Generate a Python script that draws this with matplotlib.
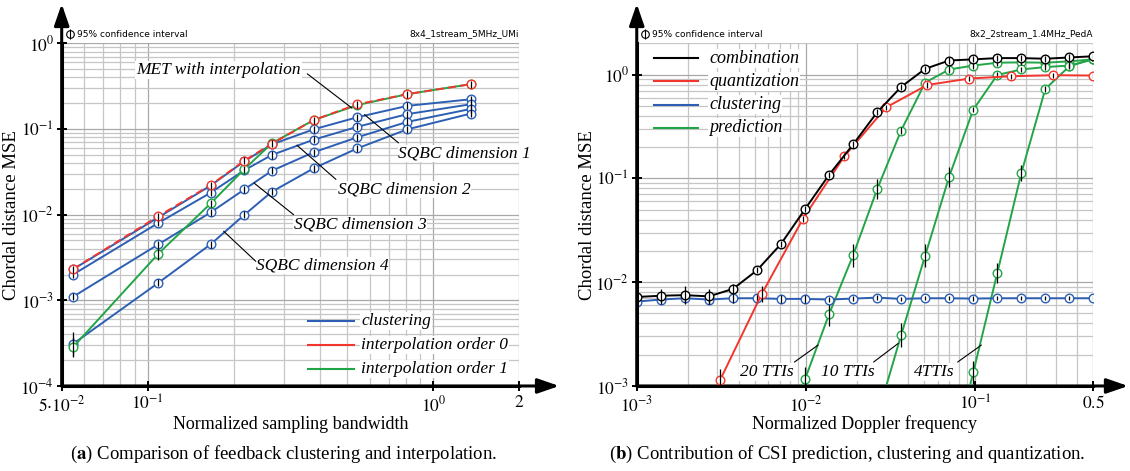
import numpy as np
import matplotlib.pyplot as plt
from matplotlib.ticker import LogLocator, NullFormatter

plt.rcParams['font.family'] = 'Liberation Serif'
plt.rcParams['mathtext.fontset'] = 'stix'

BLUE = '#2c5fb4'
RED = '#f2362e'
GREEN = '#22a546'

# ---------------- (a) feedback clustering / interpolation ----------------
bandwidth = [0.0548, 0.109, 0.166, 0.218, 0.272, 0.381, 0.542, 0.811, 1.35]
sqbc_dim1 = [2.3e-3, 9.3e-3, 0.0218, 0.042, 0.066, 0.099, 0.137, 0.186, 0.222]
sqbc_dim2 = [2.0e-3, 8.0e-3, 0.018, 0.033, 0.0497, 0.075, 0.106, 0.149, 0.194]
sqbc_dim3 = [1.1e-3, 4.5e-3, 0.0106, 0.0197, 0.0325, 0.0534, 0.080, 0.121, 0.171]
sqbc_dim4 = [3.1e-4, 1.6e-3, 4.5e-3, 0.00995, 0.0185, 0.0347, 0.0594, 0.099, 0.151]
interp_order0 = [2.31e-3, 9.6e-3, 0.0221, 0.0426, 0.0673, 0.127, 0.194, 0.255, 0.333]
interp_order1 = [2.84e-4, 3.5e-3, 0.0135, 0.034, 0.068, 0.127, 0.19, 0.255, 0.333]
# confidence interval half-width as a factor
err_dim4 = [1.37, 1.1, 1.1, 1.1, 1.1, 1.1, 1.1, 1.1, 1.1]
err_order1 = [1.3, 1.17, 1.1, 1.1, 1.1, 1.1, 1.1, 1.1, 1.1]

# ---------------- (b) prediction / clustering / quantization ----------------
doppler = [0.001, 0.001387, 0.001923, 0.002668, 0.0037, 0.005132, 0.007117,
           0.009871, 0.01369, 0.018987, 0.026333, 0.036522, 0.050652, 0.07025,
           0.09743, 0.135127, 0.187408, 0.259917, 0.360478, 0.5]
combination = [7.2e-3, 7.4e-3, 7.5e-3, 7.3e-3, 8.6e-3, 0.013, 0.0233, 0.0505, 0.108, 0.212,
               0.432, 0.76, 1.135, 1.365, 1.40, 1.44, 1.44, 1.42, 1.46, 1.50]
clustering = [6.5e-3, 6.8e-3, 7.0e-3, 6.8e-3, 7.0e-3, 7.0e-3, 6.9e-3, 6.9e-3, 6.8e-3, 6.95e-3,
              7.1e-3, 6.9e-3, 7.0e-3, 7.0e-3, 6.95e-3, 7.0e-3, 7.0e-3, 7.0e-3, 7.0e-3, 7.0e-3]
quant_doppler = [0.00176, 0.0031, 0.00547, 0.00959, 0.0169, 0.0298, 0.0522, 0.0924, 0.163, 0.289, 0.5]
quantization = [1.7e-4, 1.13e-3, 7.65e-3, 0.0407, 0.164, 0.483, 0.794, 0.915, 0.963, 0.985, 0.978]
pred_20tti = [2.8e-4, 1.16e-3, 4.9e-3, 0.0181, 0.0783, 0.289, 0.837, 1.118, 1.22, 1.30, 1.31, 1.30, 1.34, 1.40]
pred_10tti = [5.0e-4, 3.09e-3, 0.018, 0.104, 0.458, 0.99, 1.12, 1.18, 1.22, 1.40]
pred_4tti = [1.5e-4, 1.35e-3, 0.0122, 0.112, 0.727, 1.20, 1.42]

err_comb = [1.15, 1.15, 1.22, 1.18, 1.12] + [1.07] * 15
err_clust = [1.1] * 8 + [1.05] * 12
err_quant = [1.0, 1.3, 1.2] + [1.06] * 8
err_20 = [1.0, 1.3, 1.3, 1.3, 1.25] + [1.07] * 9
err_10 = [1.0, 1.3, 1.3, 1.25] + [1.06] * 6
err_4 = [1.0, 1.3, 1.25, 1.2, 1.06, 1.06, 1.06]


def curve(ax, x, y, color, err=None, ls='-', z=3, default_err=1.1):
    x = np.asarray(x)
    y = np.asarray(y)
    f = np.full(len(y), default_err) if err is None else np.asarray(err)
    ax.plot(x, y, color=color, lw=1.4, ls=ls, marker='o', ms=6.2, mfc='white',
            mec=color, mew=1.0, zorder=z)
    ax.vlines(x, y / f, y * f, color='k', lw=0.9, zorder=z + 0.5)


def style(ax, tip_x, tip_y):
    ax.set_xscale('log')
    ax.set_yscale('log')
    for s in ('top', 'right'):
        ax.spines[s].set_visible(False)
    for s in ('left', 'bottom'):
        ax.spines[s].set_linewidth(2.2)
        ax.spines[s].set_zorder(10)
    ax.grid(True, which='major', color='#a8a8a8', lw=0.9)
    ax.grid(True, which='minor', color='#c6c6c6', lw=0.9)
    ax.set_axisbelow(True)
    arrow = dict(arrowstyle='-|>,head_length=1.3,head_width=0.45', lw=2.2,
                 color='k', shrinkA=0, shrinkB=0)
    ax.annotate('', xy=(0, tip_y), xytext=(0, 0), xycoords='axes fraction',
                arrowprops=arrow, annotation_clip=False)
    ax.annotate('', xy=(tip_x, 0), xytext=(0, 0), xycoords='axes fraction',
                arrowprops=arrow, annotation_clip=False)


def ticks(ax, xt, xl, yt, yl):
    ax.set_xticks(xt, xl)
    ax.set_yticks(yt, yl)
    ax.xaxis.set_minor_locator(LogLocator(subs=np.arange(2, 10)))
    ax.yaxis.set_minor_locator(LogLocator(subs=np.arange(2, 10)))
    ax.xaxis.set_minor_formatter(NullFormatter())
    ax.yaxis.set_minor_formatter(NullFormatter())
    ax.tick_params(which='major', direction='inout', length=7, width=1.4,
                   labelsize=12.5)
    ax.tick_params(axis='x', which='major', pad=3)
    ax.tick_params(axis='y', which='major', pad=2)
    ax.tick_params(which='minor', length=0)


def header(ax, right_text):
    ax.plot([0.019], [1.027], marker='o', ms=5.5, mfc='white', mec='k', mew=0.8,
            transform=ax.transAxes, clip_on=False)
    ax.plot([0.019], [1.027], marker='|', ms=6.5, mec='k', mew=0.8,
            transform=ax.transAxes, clip_on=False)
    ax.text(0.034, 1.027, '95% confidence interval', transform=ax.transAxes,
            family='DejaVu Sans', fontsize=6.5, va='center', ha='left')
    ax.text(0.998, 1.027, right_text, transform=ax.transAxes,
            family='DejaVu Sans', fontsize=6.5, va='center', ha='right')


def legend(ax, labels, colors, x0, x1, xt, ys, fs):
    for lab, col, y in zip(labels, colors, ys):
        ax.plot([x0, x1], [y, y], color=col, lw=1.5, transform=ax.transAxes, zorder=6)
        ax.text(xt, y, lab, transform=ax.transAxes, fontsize=fs, style='italic',
                va='center', ha='left', zorder=6,
                bbox=dict(boxstyle='square,pad=0.05', fc='white', ec='none'))


def note(ax, text, pos, start, end, fs=12.5):
    ax.text(pos[0], pos[1], text, fontsize=fs, style='italic', ha='left',
            va='center', zorder=7,
            bbox=dict(boxstyle='square,pad=0.05', fc='white', ec='none'))
    ax.annotate('', xy=end, xytext=start,
                arrowprops=dict(arrowstyle='-', lw=0.8, color='k',
                                shrinkA=0, shrinkB=0), zorder=7)


fig = plt.figure(figsize=(11.3, 4.71), dpi=100)
ax1 = fig.add_axes([0.0546, 0.1805, 0.405, 0.7276])
ax2 = fig.add_axes([0.5635, 0.1805, 0.4041, 0.7276])

# ---- panel (a) ----
style(ax1, 1.087, 1.115)
curve(ax1, bandwidth, sqbc_dim1, BLUE)
curve(ax1, bandwidth, sqbc_dim2, BLUE)
curve(ax1, bandwidth, sqbc_dim3, BLUE)
curve(ax1, bandwidth, sqbc_dim4, BLUE, err=err_dim4)
curve(ax1, bandwidth, interp_order1, GREEN, err=err_order1, z=4)
ax1.plot(bandwidth, interp_order0, color=RED, lw=1.4, dashes=(4, 2.2),
         marker='o', ms=6.2, mfc='white', mec=RED, mew=1.0, zorder=5)
ax1.vlines(bandwidth, np.asarray(interp_order0) / 1.1, np.asarray(interp_order0) * 1.1,
           color='k', lw=0.9, zorder=5.5)

ticks(ax1, [0.05, 0.1, 1, 2], [r'$5{\cdot}10^{-2}$', r'$10^{-1}$', r'$10^{0}$', r'$2$'],
      [1e-4, 1e-3, 1e-2, 1e-1, 1],
      [r'$10^{-4}$', r'$10^{-3}$', r'$10^{-2}$', r'$10^{-1}$', r'$10^{0}$'])
ax1.set_xlim(0.05, 2)
ax1.set_ylim(1e-4, 1)
header(ax1, '8x4_1stream_5MHz_UMi')

note(ax1, 'MET with interpolation', (0.0912, 0.49), (0.362, 0.44), (0.519, 0.175))
note(ax1, 'SQBC dimension 1', (0.755, 0.0517), (0.755, 0.0688), (0.574, 0.147))
note(ax1, 'SQBC dimension 2', (0.463, 0.0197), (0.456, 0.0258), (0.333, 0.0646))
note(ax1, 'SQBC dimension 3', (0.324, 0.0076), (0.324, 0.0100), (0.2356, 0.0234))
note(ax1, 'SQBC dimension 4', (0.239, 0.00254), (0.239, 0.00285), (0.1845, 0.0064))

legend(ax1, ['clustering', 'interpolation order 0', 'interpolation order 1'],
       [BLUE, RED, GREEN], 0.538, 0.638, 0.654, [0.19, 0.12, 0.05], 12.5)

# ---- panel (b) ----
style(ax2, 1.076, 1.115)
curve(ax2, doppler[6:], pred_20tti, GREEN, err=err_20)
curve(ax2, doppler[10:], pred_10tti, GREEN, err=err_10)
curve(ax2, doppler[13:], pred_4tti, GREEN, err=err_4)
curve(ax2, doppler, clustering, BLUE, err=err_clust, z=4)
curve(ax2, quant_doppler, quantization, RED, err=err_quant, z=5)
curve(ax2, doppler, combination, 'k', err=err_comb, z=6)

ticks(ax2, [1e-3, 1e-2, 1e-1, 0.5], [r'$10^{-3}$', r'$10^{-2}$', r'$10^{-1}$', r'$0.5$'],
      [1e-3, 1e-2, 1e-1, 1], [r'$10^{-3}$', r'$10^{-2}$', r'$10^{-1}$', r'$10^{0}$'])
ax2.set_xlim(1e-3, 0.5)
ax2.set_ylim(1e-3, 2)
header(ax2, '8x2_2stream_1.4MHz_PedA')

note(ax2, '20 TTIs', (0.00406, 1.36e-3), (0.00855, 1.7e-3), (0.0118, 2.48e-3))
note(ax2, '10 TTIs', (0.01227, 1.36e-3), (0.0251, 1.7e-3), (0.0351, 2.57e-3))
note(ax2, '4TTIs', (0.0433, 1.36e-3), (0.0788, 1.7e-3), (0.1089, 2.48e-3))

legend(ax2, ['combination', 'quantization', 'clustering', 'prediction'],
       ['k', RED, BLUE, GREEN], 0.0375, 0.1345, 0.1584,
       [0.956, 0.889, 0.821, 0.754], 13)

# ---- labels and captions ----
fig.text(0.2575, 0.099, 'Normalized sampling bandwidth', fontsize=13, ha='center', va='center')
fig.text(0.765, 0.099, 'Normalized Doppler frequency', fontsize=13, ha='center', va='center')
fig.text(0.0105, 0.5435, 'Chordal distance MSE', fontsize=13.5, rotation=90, ha='center', va='center')
fig.text(0.5195, 0.5435, 'Chordal distance MSE', fontsize=13.5, rotation=90, ha='center', va='center')
fig.text(0.251, 0.036, r'($\mathbf{a}$) Comparison of feedback clustering and interpolation.',
         fontsize=13.5, ha='center', va='center')
fig.text(0.75, 0.036, r'($\mathbf{b}$) Contribution of CSI prediction, clustering and quantization.',
         fontsize=13.5, ha='center', va='center')

fig.savefig('out.png', dpi=100)
